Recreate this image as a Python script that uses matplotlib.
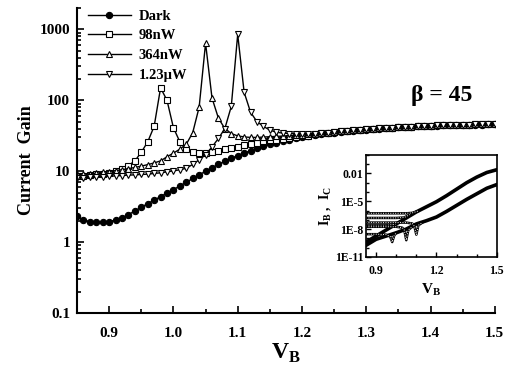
import matplotlib
matplotlib.use("Agg")
import matplotlib.pyplot as plt
import numpy as np
from matplotlib.ticker import FixedLocator, LogLocator, NullFormatter, FormatStrFormatter

plt.rcParams['font.family'] = ['Liberation Serif', 'DejaVu Serif']
plt.rcParams['font.weight'] = 'bold'
plt.rcParams['mathtext.fontset'] = 'custom'
plt.rcParams['mathtext.rm'] = 'Liberation Serif'
plt.rcParams['mathtext.bf'] = 'Liberation Serif:bold'

# base voltage sweep (V)
vb = [0.85, 0.86, 0.87, 0.88, 0.89, 0.90, 0.91, 0.92, 0.93, 0.94,
      0.95, 0.96, 0.97, 0.98, 0.99, 1.00, 1.01, 1.02, 1.03, 1.04,
      1.05, 1.06, 1.07, 1.08, 1.09, 1.10, 1.11, 1.12, 1.13, 1.14,
      1.15, 1.16, 1.17, 1.18, 1.19, 1.20, 1.21, 1.22, 1.23, 1.24,
      1.25, 1.26, 1.27, 1.28, 1.29, 1.30, 1.31, 1.32, 1.33, 1.34,
      1.35, 1.36, 1.37, 1.38, 1.39, 1.40, 1.41, 1.42, 1.43, 1.44,
      1.45, 1.46, 1.47, 1.48, 1.49, 1.50]

gain_dark = [2.3, 2.05, 1.95, 1.9, 1.9, 1.95, 2.05, 2.2, 2.45, 2.75,
             3.1, 3.5, 3.9, 4.4, 4.9, 5.5, 6.2, 7.0, 7.9, 8.9,
             10.0, 11.2, 12.5, 13.8, 15.2, 16.6, 18.0, 19.5, 21.0, 22.5,
             24.0, 25.4, 26.8, 28.0, 29.2, 30.3, 31.3, 32.3, 33.2, 34.1,
             35.0, 35.8, 36.6, 37.3, 38.0, 38.7, 39.3, 39.9, 40.5, 41.0,
             41.5, 42.0, 42.4, 42.8, 43.2, 43.6, 43.9, 44.2, 44.5, 44.8,
             45.0, 45.2, 45.4, 45.6, 45.8, 46.0]

# common high-bias part of the illuminated curves (1.22 .. 1.50 V)
gain_tail = [33.5, 34.2, 35.0, 35.8, 36.5, 37.2, 37.9, 38.5, 39.1, 39.7,
             40.3, 40.8, 41.3, 41.8, 42.3, 42.7, 43.1, 43.5, 43.9, 44.2,
             44.5, 44.8, 45.1, 45.3, 45.5, 45.7, 45.9, 46.1, 46.3]

gain_98 = [8.6, 8.7, 8.8, 9.0, 9.2, 9.5, 10.0, 10.8, 12.0, 14.0,
           18.5, 26.0, 43.0, 150.0, 100.0, 41.0, 26.0, 20.5, 18.5, 18.0,
           18.2, 18.8, 19.5, 20.3, 21.2, 22.2, 23.2, 24.3, 25.3, 26.3,
           27.2, 28.0, 28.8, 29.6, 30.3, 31.0, 31.7] + gain_tail

gain_364 = [9.0, 9.1, 9.2, 9.4, 9.6, 9.9, 10.2, 10.5, 10.9, 11.3,
            11.8, 12.4, 13.1, 14.0, 16.0, 18.0, 20.5, 24.0, 35.0, 80.0,
            640.0, 108.0, 56.0, 40.0, 34.0, 31.5, 30.5, 30.0, 30.0, 30.3,
            30.7, 31.0, 31.3, 31.7, 32.1, 32.5, 33.0] + gain_tail

gain_123 = [8.0, 8.1, 8.2, 8.3, 8.4, 8.5, 8.6, 8.7, 8.8, 8.9,
            9.0, 9.1, 9.3, 9.5, 9.8, 10.1, 10.5, 11.0, 12.5, 14.5,
            17.0, 22.0, 29.0, 40.0, 82.0, 850.0, 130.0, 68.0, 50.0, 43.0,
            38.0, 35.5, 34.5, 34.0, 34.0, 34.0, 34.0] + gain_tail

# inset: log10 of currents (A)
in_v = [0.85, 0.90, 0.95, 1.00, 1.05, 1.10, 1.15, 1.20, 1.25, 1.30, 1.35, 1.40, 1.45, 1.50]
ic_dark = [-9.4, -8.75, -8.1, -7.45, -6.8, -6.15, -5.6, -5.05, -4.4, -3.7, -3.0, -2.4, -1.9, -1.6]
ib_dark = [-9.75, -9.1, -8.75, -8.4, -8.0, -7.45, -7.1, -6.7, -6.1, -5.45, -4.8, -4.2, -3.6, -3.2]

ic98_v = [0.85, 0.90, 0.95, 0.99, 1.02]
ic98 = [-7.6, -7.6, -7.6, -7.5, -7.2]
ic364_v = [0.85, 0.90, 0.95, 1.00, 1.04, 1.07]
ic364 = [-6.8, -6.8, -6.8, -6.8, -6.75, -6.4]
ic123_v = [0.85, 0.90, 0.95, 1.00, 1.05, 1.08, 1.11]
ic123 = [-6.3, -6.3, -6.3, -6.3, -6.3, -6.25, -6.05]

ib98_v = [0.85, 0.90, 0.95, 0.97, 0.98, 0.99, 1.00]
ib98 = [-8.55, -8.55, -8.6, -8.8, -9.4, -8.7, -8.4]
ib364_v = [0.85, 0.90, 0.95, 1.00, 1.03, 1.04, 1.05, 1.06, 1.08]
ib364 = [-7.75, -7.75, -7.75, -7.75, -7.85, -8.1, -9.2, -8.1, -7.75]
ib123_v = [0.85, 0.90, 0.95, 1.00, 1.05, 1.08, 1.09, 1.10, 1.11, 1.13]
ib123 = [-7.3, -7.3, -7.3, -7.3, -7.3, -7.4, -7.7, -8.6, -7.6, -7.3]

fig = plt.figure(figsize=(5.17, 3.67), dpi=100)
ax = fig.add_axes([0.149, 0.147, 0.808, 0.831])

mk = dict(markersize=4.5, markeredgewidth=0.8, markeredgecolor='k', lw=1.0, color='k')
ax.plot(vb, gain_dark, marker='o', markerfacecolor='k', label='Dark', **mk)
ax.plot(vb, gain_98, marker='s', markerfacecolor='w', label='98nW', **mk)
ax.plot(vb, gain_364, marker='^', markerfacecolor='w', label='364nW', **mk)
ax.plot(vb, gain_123, marker='v', markerfacecolor='w', label='1.23\u03bcW', **mk)

ax.set_yscale('log')
ax.set_xlim(0.85, 1.5)
ax.set_ylim(0.1, 2000)
ax.set_xticks([0.9, 1.0, 1.1, 1.2, 1.3, 1.4, 1.5])
ax.xaxis.set_minor_locator(FixedLocator([0.95, 1.05, 1.15, 1.25, 1.35, 1.45]))
ax.xaxis.set_major_formatter(FormatStrFormatter('%.1f'))
ax.set_yticks([0.1, 1, 10, 100, 1000])
ax.set_yticklabels(['0.1', '1', '10', '100', '1000'])
ax.yaxis.set_minor_locator(LogLocator(base=10, subs=np.arange(2, 10)))
ax.yaxis.set_minor_formatter(NullFormatter())
ax.tick_params(which='both', direction='in', labelsize=11, width=1.2)
ax.tick_params(which='major', length=5)
ax.tick_params(which='minor', length=3)
ax.tick_params(axis='x', which='both', pad=10)
ax.tick_params(axis='y', which='both', pad=5)
for s in ['top', 'right']:
    ax.spines[s].set_visible(False)
for s in ['left', 'bottom']:
    ax.spines[s].set_linewidth(1.5)
for lab in ax.get_xticklabels() + ax.get_yticklabels():
    lab.set_fontweight('bold')

ax.set_ylabel('Current  Gain', fontsize=13, fontweight='bold', labelpad=3)
ax.set_xlabel(r'V$_\mathbf{B}$', fontsize=17, fontweight='bold', labelpad=1)

leg = ax.legend(loc='upper left', bbox_to_anchor=(0.158, 0.99), bbox_transform=fig.transFigure,
                frameon=False, fontsize=10.5, handlelength=3.0, labelspacing=0.45,
                handletextpad=0.5, borderaxespad=0)
for t in leg.get_texts():
    t.set_fontweight('bold')

fig.text(0.855, 0.74, '\u03b2 = 45', fontsize=17, fontweight='bold', ha='center', va='center')

# inset
axi = fig.add_axes([0.708, 0.300, 0.253, 0.278])
for lv in [ic_dark, ib_dark]:
    axi.plot(in_v, 10 ** np.array(lv), color='k', lw=2.6)
for xv, yv in [(ic98_v, ic98), (ic364_v, ic364), (ic123_v, ic123),
               (ib98_v, ib98), (ib364_v, ib364), (ib123_v, ib123)]:
    axi.plot(xv, 10 ** np.array(yv), color='k', lw=1.8)
    axi.plot(xv, 10 ** np.array(yv), color='w', lw=0.7, ls=(0, (1, 1.5)))
axi.set_yscale('log')
axi.set_xlim(0.85, 1.5)
axi.set_ylim(1e-11, 1)
axi.set_xticks([0.9, 1.2, 1.5])
axi.xaxis.set_minor_locator(FixedLocator([1.0, 1.1, 1.3, 1.4]))
axi.xaxis.set_major_formatter(FormatStrFormatter('%.1f'))
axi.yaxis.set_major_locator(FixedLocator([1e-11, 1e-8, 1e-5, 1e-2]))
axi.set_yticklabels(['1E-11', '1E-8', '1E-5', '0.01'])
axi.yaxis.set_minor_locator(FixedLocator([10.0 ** k for k in range(-11, 1)]))
axi.yaxis.set_minor_formatter(NullFormatter())
axi.tick_params(which='both', direction='in', labelsize=8.5, width=1.0, pad=2)
axi.tick_params(axis='x', which='both', pad=6)
axi.tick_params(which='major', length=3.5)
axi.tick_params(which='minor', length=2)
for lab in axi.get_xticklabels() + axi.get_yticklabels():
    lab.set_fontweight('bold')
for s in axi.spines.values():
    s.set_linewidth(1.2)
axi.set_ylabel(r'I$_\mathbf{B}$ ,  I$_\mathbf{C}$', fontsize=10, fontweight='bold', labelpad=1)
axi.set_xlabel(r'V$_\mathbf{B}$', fontsize=11, fontweight='bold', labelpad=3)

fig.savefig('out.png', dpi=100)
